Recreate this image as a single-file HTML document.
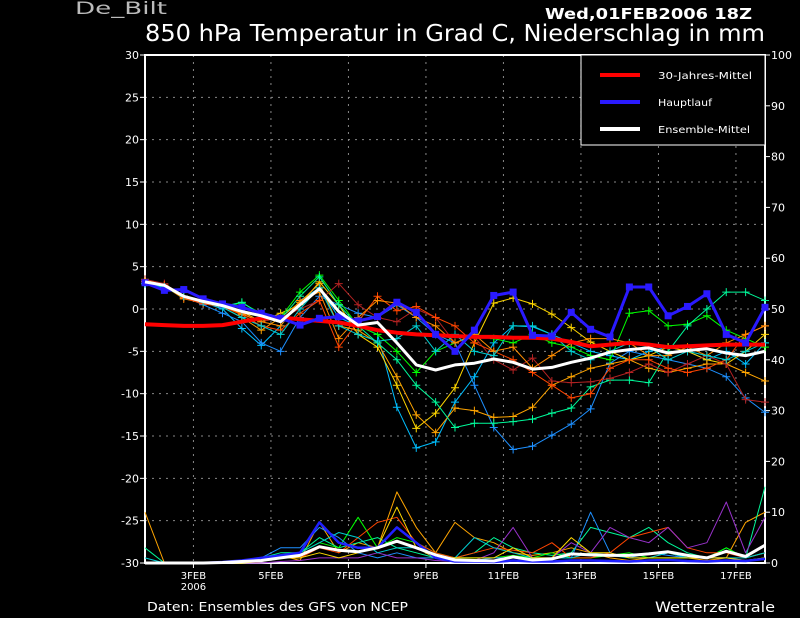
<!DOCTYPE html>
<html><head><meta charset="utf-8"><style>
html,body{margin:0;padding:0;background:#000;width:800px;height:618px;overflow:hidden}
svg{display:block}
text{font-family:"DejaVu Sans","Liberation Sans",sans-serif}
</style></head><body>
<svg id="chart" width="800" height="618" viewBox="0 0 800 618" xmlns="http://www.w3.org/2000/svg">
<rect x="0" y="0" width="800" height="618" fill="#000"/>
<text x="75" y="14" fill="#bbb" font-size="17" textLength="92" lengthAdjust="spacingAndGlyphs">De_Bilt</text>
<text x="545" y="19" fill="#fff" font-size="15" font-weight="bold" textLength="207" lengthAdjust="spacingAndGlyphs">Wed,01FEB2006  18Z</text>
<text x="145" y="41" fill="#fff" font-size="23" textLength="620" lengthAdjust="spacingAndGlyphs">850 hPa Temperatur in Grad C, Niederschlag in mm</text>
<text x="147" y="611" fill="#fff" font-size="12" textLength="261" lengthAdjust="spacingAndGlyphs">Daten: Ensembles des GFS von NCEP</text>
<text x="655" y="612" fill="#fff" font-size="14" textLength="120" lengthAdjust="spacingAndGlyphs">Wetterzentrale</text>
<g id="grid"></g><g id="axes"></g><g id="precip"></g><g id="temps"></g><g id="legend"></g>
</svg>
<script>
const dayLabels=["3FEB","5FEB","7FEB","9FEB","11FEB","13FEB","15FEB","17FEB"];
const dayPositions=[3,5,7,9,11,13,15,17];
const tempTicks=[30,25,20,15,10,5,0,-5,-10,-15,-20,-25,-30];
const precipTicks=[0,10,20,30,40,50,60,70,80,90,100];
const climate=[-1.8,-1.9,-2.0,-2.0,-1.9,-1.5,-1.1,-1.0,-1.2,-1.4,-1.6,-2.0,-2.5,-2.8,-3.0,-3.1,-3.2,-3.3,-3.3,-3.4,-3.4,-3.5,-3.9,-4.4,-4.2,-4.0,-4.2,-4.5,-4.4,-4.3,-4.2,-4.2,-4.2];
const mainRun=[3.1,2.2,2.3,1.2,0.6,0.2,-0.5,-1.1,-1.9,-1.1,-0.9,-1.4,-0.9,0.8,-0.4,-3,-5,-2.5,1.6,2.0,-3.1,-3.2,-0.4,-2.4,-3.3,2.6,2.6,-0.8,0.3,1.8,-3,-4,0.2];
const ensMean=[3.2,2.8,1.5,0.9,0.4,-0.3,-0.8,-1.5,0.5,2.4,-0.3,-1.9,-1.6,-4,-6.6,-7.2,-6.6,-6.4,-5.9,-6.3,-7.1,-6.9,-6.3,-5.8,-5.1,-4.8,-4.6,-5.2,-4.9,-4.7,-5.2,-5.5,-5.0];
const memberColors=["#00bfff","#1e90ff","#ffd700","#ffa500","#00ff00","#00fa9a","#b22222","#ff4500","#ff8c00","#00ced1"];
const m1=[3,2.5,1.5,0.8,0,-2.3,-4.3,-2,1,2.5,-1,-2,-3,-11.6,-16.4,-15.7,-11,-8,-4,-2,-2.1,-3,-4,-5,-5.5,-6,-5,-4.5,-5,-6,-5,-6.5,-4];
const m2=[3,2.5,1.5,0.5,-0.5,-1.5,-4,-5,-1,1.5,0.5,-0.5,-1,0.5,-1,-3,-4,-9,-14,-16.6,-16.2,-14.9,-13.6,-11.8,-6.4,-5,-5.5,-6,-6.5,-7,-8,-10.5,-12.2];
const m3=[3.5,2.8,1.5,0.8,0.3,-0.3,-1.5,-0.5,0.5,3.2,0.5,-3,-4.5,-9,-14.1,-12.3,-9.3,-4,0.7,1.3,0.6,-0.6,-2.2,-3.9,-5,-6,-5.5,-4.5,-5,-6,-6.5,-5,-3];
const m4=[3.3,2.7,1.2,0.7,0.2,-1,-2.5,-1,0.8,3,-2,-2.5,-4,-8,-12.5,-14.6,-11.7,-12,-12.8,-12.7,-11.6,-9,-8,-7,-6.5,-6,-7,-7.5,-7,-6.5,-6.5,-7.5,-8.5];
const m5=[3,2.5,1.5,0.8,0.3,0.7,-0.5,-1,2,4,1,-2,-3,-5,-7.5,-5,-4,-3,-3.5,-4,-3,-4,-4.5,-5.5,-6,-0.5,-0.2,-2,-1.8,-0.8,-2.5,-3.5,-4.5];
const m6=[3,2.5,1.5,0.8,0.3,0.8,-0.7,-1.2,1.5,3.8,0.5,-2,-4,-6,-9,-11,-14,-13.5,-13.5,-13.3,-13,-12.3,-11.7,-9.2,-8.4,-8.4,-8.7,-5,-2,0,2,2,1];
const m7=[3.5,3,1.5,1,0.5,-0.5,-1.5,-1,0,1,3,0.5,-1,-1.5,0,-1,-4,-3.3,-6,-7.2,-5.8,-8.5,-8.7,-8.6,-8.2,-7.5,-6.5,-7.5,-6.5,-5.5,-6.5,-10.7,-11];
const m8=[3.3,2.8,1.3,0.6,0.3,-0.7,-2,-2.5,-0.5,1,-4.5,-1.5,1.5,-0.2,0.3,-1,-2,-4,-5,-6,-7.5,-9,-10.5,-10,-7,-6,-6,-7,-7.5,-7,-6,-3,-2];
const m9=[3.2,2.6,1.4,0.9,0.4,-0.6,-1.5,-2,1,2,-3.5,-1,1,0.7,-1,-2,-4,-3,-5,-4.5,-7,-5.5,-4,-3.5,-3.5,-4,-5.5,-5.5,-4.5,-5.5,-4,-3,-2];
const m10=[3,2.6,1.5,0.8,0.2,-1,-2,-3,0,2.5,-2,-3,-3.8,-3.5,-2,-5,-3,-5,-5.5,-2,-2,-3,-5,-6,-5,-4,-4.5,-6,-5,-5.5,-6,-5,-4];
const members=[m1,m2,m3,m4,m5,m6,m7,m8,m9,m10];
const precipMean=[0,0,0,0,0.1,0.3,0.5,1,1.5,3.2,2.5,2.2,3,4.3,3,1.6,0.6,0.5,0.4,1.2,0.6,0.8,1.8,1.6,1.5,1.5,1.8,2.2,1.5,1,2.3,1.3,3.5];
const precipMain=[0,0,0,0,0.2,0.5,1,1.5,2,8,4,3,3,7,4,1,0.3,0.3,0.2,0.5,0.3,0.3,0.5,0.5,0.4,0.3,0.5,0.6,0.4,0.3,0.5,0.4,0.8];
const precipColors=["#ffa500","#00fa9a","#00ff00","#ff4500","#1e90ff","#9932cc","#00ced1","#ffd700"];
const p1=[10,0,0,0,0,0,0.5,1.5,0.5,8,2,4,3,14,7,2,8,5,4,2,1.5,2,3,2,1,0.5,1,2,1,0.5,1,8,10];
const p2=[3,0,0,0,0,0.2,1,2,2,5,3,4,5,3,2,1,1,2,5,3,2,1.5,2,7,6,5,7,4,2,1,3,1,15];
const p3=[0,0,0,0,0,0.2,0.5,1,2,4,3,9,3,5,4,2,1,1,1,1.5,1,2,1,1,1.5,2,1,1,1,1,3,1,2];
const p4=[0,0,0,0,0,0,0.5,1.5,1,3,2,5,8,9,4,2,1,2,3,2.5,2,4,1,1,2,5,6,7,3,2,2,1,2];
const p5=[0,0,0,0,0,0.5,1,3,3,7,5,2,1,2,1,1,0.5,0.5,1,1,0.5,1,1,10,2,1,2,1.5,1,1,1,0.5,1];
const p6=[0,0,0,0,0,0,0,0.3,0.5,1,1,1,2,1,1,0.5,0.3,0.5,2,7,1,1,4,2,7,5,4,7,3,4,12,2,9];
const p7=[1,0,0,0,0,0,0.5,1,2,4,6,5,2,3,3,1,1,5,3,2,1,1,1,2,1.5,1,1,2,1,1,1,1,2];
const p8=[0,0,0,0,0,0,0.3,1,1,2,1,2,3,11,3,1,1,1,1,3,1,1,5,2,2,1,1,1,1,1,1,0.5,1];
const precipMembers=[p1,p2,p3,p4,p5,p6,p7,p8];

const NS="http://www.w3.org/2000/svg";
const X0=145,X1=765,Y0=55,Y1=563,startDay=1.75,endDay=17.75;
function xDay(d){return X0+(d-startDay)/(endDay-startDay)*(X1-X0);}
function xIdx(i){return xDay(startDay+i*0.5);}
function yT(t){return Y1-(t+30)/60*(Y1-Y0);}
function yP(p){return Y1-p/100*(Y1-Y0);}
function mk(tag,attrs,parent){const e=document.createElementNS(NS,tag);for(const k in attrs)e.setAttribute(k,attrs[k]);parent.appendChild(e);return e;}
const grid=document.getElementById('grid'),axes=document.getElementById('axes'),pg=document.getElementById('precip'),tg=document.getElementById('temps'),lg=document.getElementById('legend');

tempTicks.forEach(t=>{
  const y=yT(t);
  if(t>-30&&t<30){const l=mk('line',{x1:X0,x2:X1,y1:y,y2:y,stroke:'#888','stroke-dasharray':'2,5'},grid);
  
  }
  mk('line',{x1:X0-5,x2:X0,y1:y,y2:y,stroke:'#fff'},axes);
  const tx=mk('text',{x:X0-6,y:y+4,fill:'#fff','font-size':11,'text-anchor':'end'},axes);tx.textContent=t;
  
  
});
precipTicks.forEach(p=>{
  const y=yP(p);
  mk('line',{x1:X1,x2:X1+5,y1:y,y2:y,stroke:'#fff'},axes);
  const tx=mk('text',{x:X1+6,y:y+4,fill:'#fff','font-size':11},axes);tx.textContent=p;
  
  
});
dayPositions.forEach((d,i)=>{
  const x=xDay(d);
  const l=mk('line',{x1:x,x2:x,y1:Y0,y2:Y1,stroke:'#888','stroke-dasharray':'2,5'},grid);
  
  
  mk('line',{x1:x,x2:x,y1:Y1,y2:Y1+5,stroke:'#fff'},axes);
  const tx=mk('text',{x:x,y:Y1+16,fill:'#fff','font-size':10,'text-anchor':'middle'},axes);tx.textContent=dayLabels[i];
  
  
});
const yr=mk('text',{x:xDay(3),y:Y1+27,fill:'#fff','font-size':10,'text-anchor':'middle'},axes);yr.textContent='2006';


const fr=mk('rect',{x:X0,y:Y0,width:X1-X0,height:Y1-Y0,fill:'none',stroke:'#fff','stroke-width':2},axes);



function poly(vals,yf,color,w,parent,name){
  const pts=vals.map((v,i)=>xIdx(i).toFixed(1)+','+yf(v).toFixed(1)).join(' ');
  const p=mk('polyline',{points:pts,fill:'none',stroke:color,'stroke-width':w,'stroke-linejoin':'round'},parent);
  
  
  return p;
}
precipMembers.forEach((arr,k)=>poly(arr,yP,precipColors[k],1,pg,'precip-member-line'));
poly(precipMain,yP,'#2020ff',2.5,pg,'precip-main-run');
poly(precipMean,yP,'#fff',3,pg,'precip-ensemble-mean');

members.forEach((arr,k)=>{
  const c=memberColors[k];
  poly(arr,yT,c,1,tg,'member-line');
  arr.forEach((v,i)=>{
    const x=xIdx(i),y=yT(v);
    const g=mk('path',{d:`M${x-4} ${y}H${x+4}M${x} ${y-4}V${y+4}`,stroke:c,'stroke-width':1},tg);
    
    
  });
});
poly(climate,yT,'#ff0000',4,tg,'climate-mean-line');
poly(mainRun,yT,'#2a1aff',3,tg,'main-run-line');
mainRun.forEach((v,i)=>{
  const r=mk('rect',{x:xIdx(i)-3.5,y:yT(v)-3.5,width:7,height:7,fill:'#2a1aff'},tg);
  
  
});
poly(ensMean,yT,'#fff',3,tg,'ensemble-mean-line');

const lb=mk('rect',{x:581,y:55,width:184,height:90,fill:'#000',stroke:'#fff','stroke-width':1},lg);


const legNames=["30-Jahres-Mittel","Hauptlauf","Ensemble-Mittel"];
const legLens=[94,54,92];
const legCols=["#ff0000","#2a1aff","#fff"];
legNames.forEach((n,i)=>{
  const y=75+i*27;
  const l=mk('line',{x1:600,x2:640,y1:y,y2:y,stroke:legCols[i],'stroke-width':4},lg);
  
  
  const t=mk('text',{x:658,y:y+4,fill:'#fff','font-size':10,textLength:legLens[i],lengthAdjust:'spacingAndGlyphs'},lg);t.textContent=n;
  
  
});
</script>
</body></html>
